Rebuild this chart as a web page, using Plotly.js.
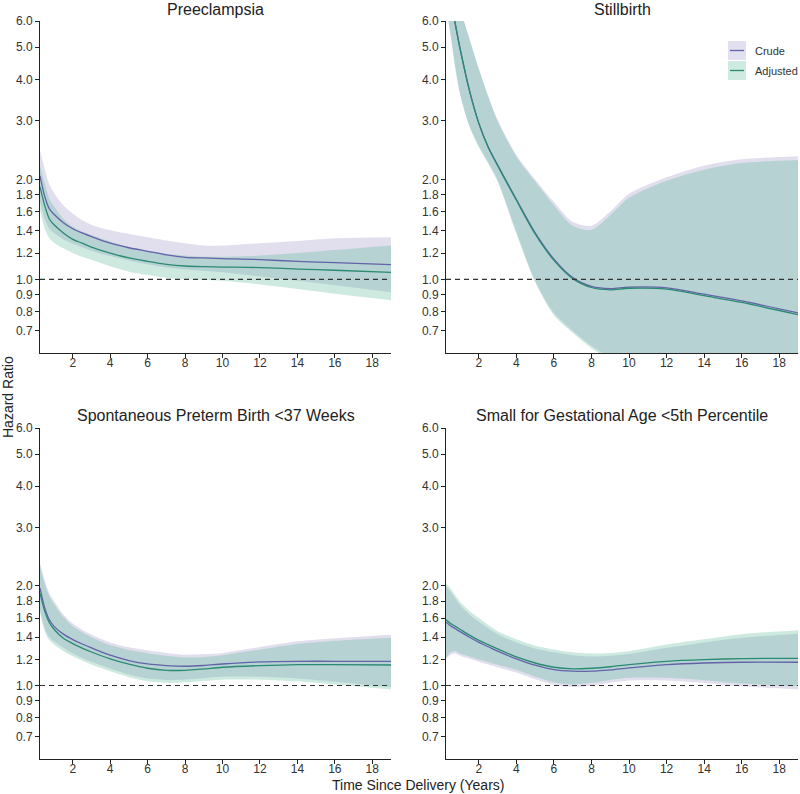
<!DOCTYPE html>
<html>
<head>
<meta charset="utf-8">
<script src="https://cdn.plot.ly/plotly-3.0.1.min.js"></script>
<style>
  html, body { margin: 0; padding: 0; background: #fff; }
  #chart { width: 800px; height: 794px; }
</style>
</head>
<body>
<div id="chart"></div>
<script>
// time since delivery (years), shared by all panels
const years = [0.25, 0.5, 0.75, 1, 1.5, 2, 2.5, 3, 4, 5, 6, 7, 8, 9, 10, 12, 14, 16, 19];

// Preeclampsia
const preCrude   = [2.05, 1.78, 1.63, 1.57, 1.48, 1.42, 1.38, 1.345, 1.285, 1.245, 1.215, 1.185, 1.165, 1.16, 1.155, 1.147, 1.132, 1.123, 1.108];
const preCrudeLo = [1.72, 1.52, 1.42, 1.38, 1.32, 1.28, 1.25, 1.22, 1.175, 1.14, 1.11, 1.085, 1.07, 1.06, 1.05, 1.02, 0.99, 0.96, 0.915];
const preCrudeHi = [2.45, 2.15, 1.93, 1.82, 1.67, 1.58, 1.51, 1.46, 1.405, 1.37, 1.34, 1.31, 1.285, 1.265, 1.265, 1.285, 1.305, 1.33, 1.34];
const preAdj     = [1.90, 1.67, 1.52, 1.46, 1.38, 1.32, 1.285, 1.25, 1.20, 1.16, 1.133, 1.11, 1.097, 1.092, 1.089, 1.085, 1.074, 1.065, 1.05];
const preAdjLo   = [1.62, 1.42, 1.33, 1.29, 1.24, 1.20, 1.17, 1.145, 1.095, 1.055, 1.03, 1.01, 1.0, 0.995, 0.99, 0.965, 0.935, 0.905, 0.865];
const preAdjHi   = [2.2, 1.95, 1.75, 1.66, 1.52, 1.44, 1.39, 1.36, 1.30, 1.25, 1.22, 1.195, 1.18, 1.17, 1.17, 1.18, 1.2, 1.225, 1.265];

// Stillbirth
const stbCrude   = [8.5, 7.0, 5.85, 4.95, 3.7, 2.95, 2.5, 2.21, 1.74, 1.38, 1.15, 1.012, 0.952, 0.937, 0.947, 0.943, 0.902, 0.861, 0.792];
const stbCrudeLo = [6.7, 5.45, 4.35, 3.63, 2.9, 2.52, 2.25, 1.99, 1.39, 0.99, 0.79, 0.7, 0.63, 0.58, 0.53, 0.46, 0.41, 0.36, 0.31];
const stbCrudeHi = [11, 9.2, 7.8, 6.6, 5.3, 4.3, 3.57, 3.02, 2.37, 2.0, 1.71, 1.49, 1.45, 1.6, 1.81, 2.03, 2.2, 2.3, 2.35];
const stbAdj     = [8.5, 7.0, 5.85, 4.95, 3.7, 2.95, 2.5, 2.2, 1.73, 1.37, 1.14, 1.005, 0.945, 0.93, 0.94, 0.935, 0.893, 0.852, 0.783];
const stbAdjLo   = [6.6, 5.4, 4.3, 3.6, 2.88, 2.5, 2.23, 1.97, 1.37, 0.98, 0.78, 0.69, 0.62, 0.57, 0.52, 0.45, 0.4, 0.35, 0.3];
const stbAdjHi   = [11, 9.2, 7.8, 6.6, 5.3, 4.3, 3.55, 3.0, 2.34, 1.97, 1.67, 1.45, 1.41, 1.56, 1.76, 1.98, 2.14, 2.24, 2.29];

// Spontaneous preterm birth <37 weeks
const ptbCrude   = [1.97, 1.72, 1.58, 1.51, 1.43, 1.377, 1.335, 1.30, 1.235, 1.19, 1.162, 1.149, 1.144, 1.15, 1.162, 1.179, 1.184, 1.184, 1.184];
const ptbCrudeLo = [1.7, 1.49, 1.40, 1.36, 1.30, 1.25, 1.212, 1.18, 1.126, 1.08, 1.05, 1.04, 1.043, 1.053, 1.063, 1.063, 1.05, 1.027, 0.99];
const ptbCrudeHi = [2.34, 2.08, 1.9, 1.8, 1.64, 1.54, 1.475, 1.425, 1.35, 1.305, 1.278, 1.255, 1.24, 1.245, 1.255, 1.308, 1.36, 1.39, 1.425];
const ptbAdj     = [1.90, 1.68, 1.55, 1.48, 1.39, 1.339, 1.298, 1.263, 1.204, 1.16, 1.128, 1.112, 1.112, 1.123, 1.136, 1.149, 1.157, 1.157, 1.154];
const ptbAdjLo   = [1.66, 1.46, 1.37, 1.33, 1.27, 1.226, 1.19, 1.157, 1.104, 1.06, 1.03, 1.019, 1.023, 1.033, 1.042, 1.042, 1.03, 1.007, 0.973];
const ptbAdjHi   = [2.3, 2.03, 1.86, 1.76, 1.61, 1.51, 1.45, 1.40, 1.325, 1.28, 1.252, 1.23, 1.215, 1.22, 1.235, 1.285, 1.335, 1.365, 1.395];

// Small for gestational age <5th percentile
const sgaCrude   = [1.553, 1.515, 1.485, 1.455, 1.4, 1.35, 1.31, 1.27, 1.204, 1.152, 1.117, 1.105, 1.105, 1.115, 1.131, 1.157, 1.17, 1.176, 1.176];
const sgaCrudeLo = [1.2, 1.24, 1.25, 1.23, 1.205, 1.18, 1.157, 1.135, 1.095, 1.045, 1.005, 0.99, 1.0, 1.02, 1.035, 1.035, 1.018, 0.995, 0.975];
const sgaCrudeHi = [2.0, 1.92, 1.83, 1.75, 1.64, 1.56, 1.49, 1.43, 1.35, 1.295, 1.26, 1.235, 1.225, 1.23, 1.245, 1.3, 1.35, 1.395, 1.435];
const sgaAdj     = [1.58, 1.54, 1.51, 1.48, 1.42, 1.37, 1.33, 1.29, 1.22, 1.17, 1.136, 1.123, 1.128, 1.14, 1.157, 1.184, 1.198, 1.206, 1.209];
const sgaAdjLo   = [1.212, 1.26, 1.27, 1.25, 1.225, 1.198, 1.177, 1.155, 1.117, 1.065, 1.023, 1.007, 1.019, 1.04, 1.055, 1.055, 1.038, 1.014, 0.995];
const sgaAdjHi   = [2.04, 1.96, 1.87, 1.79, 1.68, 1.6, 1.525, 1.46, 1.38, 1.32, 1.285, 1.26, 1.25, 1.255, 1.27, 1.33, 1.38, 1.43, 1.47];

const panelTitles = ['Preeclampsia', 'Stillbirth', 'Spontaneous Preterm Birth <37 Weeks', 'Small for Gestational Age <5th Percentile'];
const yTicks = [0.7, 0.8, 0.9, 1.0, 1.2, 1.4, 1.6, 1.8, 2.0, 3.0, 4.0, 5.0, 6.0];
const xTicks = [2, 4, 6, 8, 10, 12, 14, 16, 18];

const crudeLine = '#6263a8';
const adjLine = '#2b8a72';
const crudeFill = 'rgba(118,108,178,0.22)';
const adjFill = 'rgba(60,170,130,0.25)';

const panels = [
  { crude: preCrude, cLo: preCrudeLo, cHi: preCrudeHi, adj: preAdj, aLo: preAdjLo, aHi: preAdjHi },
  { crude: stbCrude, cLo: stbCrudeLo, cHi: stbCrudeHi, adj: stbAdj, aLo: stbAdjLo, aHi: stbAdjHi },
  { crude: ptbCrude, cLo: ptbCrudeLo, cHi: ptbCrudeHi, adj: ptbAdj, aLo: ptbAdjLo, aHi: ptbAdjHi },
  { crude: sgaCrude, cLo: sgaCrudeLo, cHi: sgaCrudeHi, adj: sgaAdj, aLo: sgaAdjLo, aHi: sgaAdjHi }
];

// pixel helpers for paper positions
const W = 800, H = 794;
const px = v => v / W;
const py = v => 1 - v / H;

const colDomains = [[px(40), px(391)], [px(446), px(798)]];
const rowDomains = [[py(353), py(21)], [py(759), py(428)]];

const data = [];
const layout = {
  width: W, height: H,
  margin: { l: 0, r: 0, t: 0, b: 0 },
  paper_bgcolor: '#fff', plot_bgcolor: '#fff',
  showlegend: false,
  font: { family: 'Liberation Sans, Arial, sans-serif', color: '#333', size: 12 },
  annotations: [],
  shapes: []
};

panels.forEach((p, i) => {
  const n = i === 0 ? '' : String(i + 1);
  const xa = 'x' + n, ya = 'y' + n;
  const band = { x: years, xaxis: xa, yaxis: ya, mode: 'lines', hoverinfo: 'skip',
                 line: { width: 0, shape: 'spline', smoothing: 0.8 } };
  data.push(Object.assign({}, band, { y: p.cLo }));
  data.push(Object.assign({}, band, { y: p.cHi, fill: 'tonexty', fillcolor: crudeFill }));
  data.push(Object.assign({}, band, { y: p.aLo }));
  data.push(Object.assign({}, band, { y: p.aHi, fill: 'tonexty', fillcolor: adjFill }));
  data.push({ x: years, y: p.crude, xaxis: xa, yaxis: ya, mode: 'lines', hoverinfo: 'skip',
              line: { color: crudeLine, width: 1.3, shape: 'spline', smoothing: 0.8 } });
  data.push({ x: years, y: p.adj, xaxis: xa, yaxis: ya, mode: 'lines', hoverinfo: 'skip',
              line: { color: adjLine, width: 1.3, shape: 'spline', smoothing: 0.8 } });

  const col = i % 2, row = Math.floor(i / 2);
  layout['xaxis' + n] = {
    domain: colDomains[col], anchor: ya, range: [0.25, 19],
    tickvals: xTicks, ticktext: xTicks.map(String),
    showgrid: false, zeroline: false, showline: true, linecolor: '#222', linewidth: 1,
    ticks: 'outside', ticklen: 4, tickcolor: '#222', tickfont: { size: 12, color: '#333' },
    ticklabelstandoff: -5
  };
  layout['yaxis' + n] = {
    domain: rowDomains[row], anchor: xa, type: 'log',
    range: [Math.log10(0.6), Math.log10(6)],
    tickvals: yTicks, ticktext: yTicks.map(v => v.toFixed(1)),
    showgrid: false, zeroline: false, showline: true, linecolor: '#222', linewidth: 1,
    ticks: 'outside', ticklen: 4, tickcolor: '#222', tickfont: { size: 12, color: '#333' }
  };
  // reference line at HR = 1
  layout.shapes.push({ type: 'line', xref: xa + ' domain', yref: ya, x0: 0, x1: 1, y0: 1, y1: 1,
                       line: { color: '#333', width: 1.1, dash: '5px,4px' } });
  layout.annotations.push({
    text: panelTitles[i], xref: 'paper', yref: 'paper',
    x: (colDomains[col][0] + colDomains[col][1]) / 2, y: row === 0 ? py(9) : py(415),
    xanchor: 'center', yanchor: 'middle', showarrow: false, font: { size: 16, color: '#222' }
  });
});

// axis titles
layout.annotations.push({ text: 'Hazard Ratio', xref: 'paper', yref: 'paper', x: px(8), y: py(397),
  textangle: -90, xanchor: 'center', yanchor: 'middle', showarrow: false, font: { size: 14, color: '#222' } });
layout.annotations.push({ text: 'Time Since Delivery (Years)', xref: 'paper', yref: 'paper', x: px(418), y: py(785),
  xanchor: 'center', yanchor: 'middle', showarrow: false, font: { size: 14, color: '#222' } });

// legend keys (Stillbirth panel, top right)
const legendKeys = [
  { label: 'Crude', fill: '#e1dff0', line: crudeLine, top: 41 },
  { label: 'Adjusted', fill: '#cfeae0', line: adjLine, top: 61 }
];
legendKeys.forEach(k => {
  layout.shapes.push({ type: 'rect', xref: 'paper', yref: 'paper', x0: px(728), x1: px(746),
    y0: py(k.top + 19), y1: py(k.top), fillcolor: k.fill, line: { width: 0 } });
  layout.shapes.push({ type: 'line', xref: 'paper', yref: 'paper', x0: px(730), x1: px(744),
    y0: py(k.top + 9.5), y1: py(k.top + 9.5), line: { color: k.line, width: 1.3 } });
  layout.annotations.push({ text: k.label, xref: 'paper', yref: 'paper', x: px(753), y: py(k.top + 9.5),
    xanchor: 'left', yanchor: 'middle', showarrow: false, font: { size: 11, color: '#333' } });
});

Plotly.newPlot('chart', data, layout, { staticPlot: true });
</script>
</body>
</html>
